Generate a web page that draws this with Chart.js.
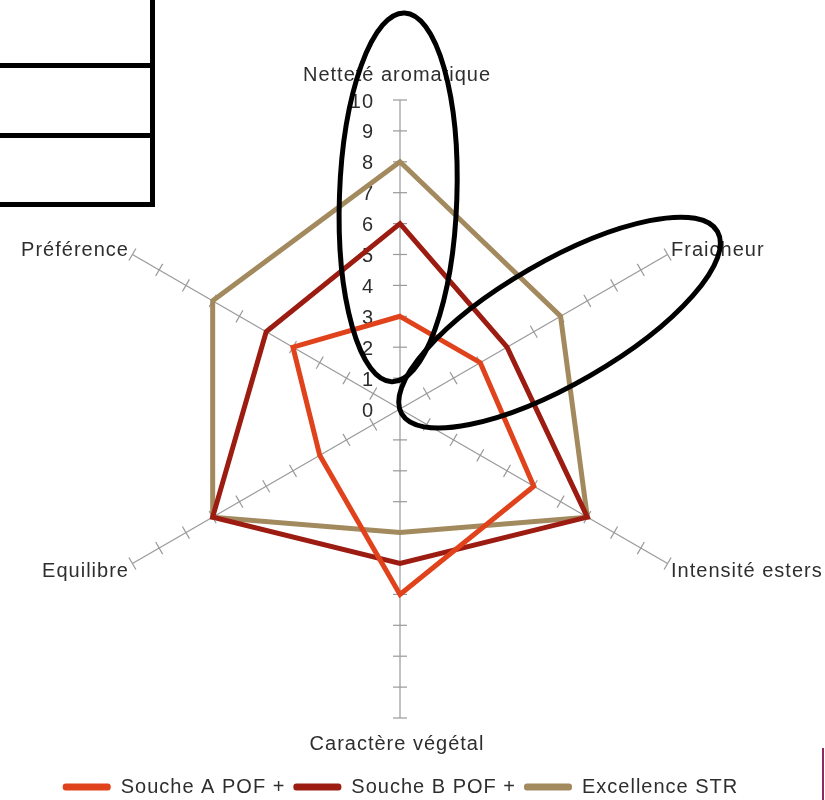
<!DOCTYPE html>
<html>
<head>
<meta charset="utf-8">
<script src="https://cdn.jsdelivr.net/npm/chart.js@4"></script>
<style>
  body { margin: 0; background: #fff; }
  #wrap { position: relative; width: 825px; height: 800px; overflow: hidden; }
  #radarChart { position: absolute; left: -24px; top: 0; }
  /* the little empty table laid over the top-left corner */
  .cell { position: absolute; left: -10px; width: 160px; border-right: 5px solid #000; border-bottom: 5px solid #000; }
  .mark { position: absolute; left: 822px; top: 748px; width: 2px; height: 52px; background: #8b2a66; }
</style>
</head>
<body>
<div id="wrap">
  <canvas id="radarChart" width="849" height="807"></canvas>
  <div class="cell" style="top:0; height:63px;"></div>
  <div class="cell" style="top:68px; height:65px;"></div>
  <div class="cell" style="top:138px; height:64px;"></div>
  <div class="mark"></div>
</div>
<script>
const criteria = ['Netteté aromatique', 'Fraicheur', 'Intensité esters', 'Caractère végétal', 'Equilibre', 'Préférence'];
const soucheA = [3, 3, 5, 6, 3, 4];
const soucheB = [6, 4, 7, 5, 7, 5];
const excellence = [8, 6, 7, 4, 7, 7];
const tickValues = [0, 1, 2, 3, 4, 5, 6, 7, 8, 9, 10];

const FONT = '"Liberation Sans", Arial, sans-serif';
const TEXT = '#2e2e2e';
const ctx = document.getElementById('radarChart').getContext('2d');

// the original text is a bit stretched, so open the letters up
const letterSpacing = {
    id: 'letterSpacing',
    beforeLayout(chart) { chart.ctx.letterSpacing = '1px'; },
    beforeDraw(chart) { chart.ctx.letterSpacing = '1px'; }
};

// tick marks on every axis, numbers on the top axis, criteria names
const axisDecor = {
    id: 'axisDecor',
    beforeDatasetsDraw(chart) {
        const scale = chart.scales.r;
        const c = chart.ctx;
        c.save();
        c.strokeStyle = '#999';
        c.lineWidth = 1.2;
        for (let i = 0; i < criteria.length; i++) {
            const ang = scale.getIndexAngle(i);
            const nx = Math.cos(ang), ny = Math.sin(ang); // perpendicular to the axis
            tickValues.forEach(v => {
                if (v === 0) return;
                const p = scale.getPointPositionForValue(i, v);
                c.beginPath();
                c.moveTo(p.x - nx * 7, p.y - ny * 7);
                c.lineTo(p.x + nx * 7, p.y + ny * 7);
                c.stroke();
            });
        }

        c.fillStyle = TEXT;
        c.font = '20px ' + FONT;
        c.textBaseline = 'middle';
        c.textAlign = 'right';
        tickValues.forEach(v => {
            const p = scale.getPointPositionForValue(0, v);
            c.fillText(String(v), p.x - 26, p.y + 2);
        });

        criteria.forEach((name, i) => {
            const deg = Math.round(scale.getIndexAngle(i) * 180 / Math.PI) % 360;
            const p = scale.getPointPosition(i, scale.drawingArea + 4);
            let x = p.x, y = p.y;
            if (deg === 0) { c.textAlign = 'center'; x -= 3; y -= 21; }
            else if (deg === 180) { c.textAlign = 'center'; x -= 3; y += 22; }
            else {
                c.textAlign = deg < 180 ? 'left' : 'right';
                y += (deg < 90 || deg > 270) ? -2 : 6;
            }
            c.fillText(name, x, y);
        });
        c.restore();
    }
};

// hand drawn ellipses laid along two of the axes (sizes in axis units)
const circles = [
    { axis: 0, centre: 6.85, half: 5.97, across: 1.9, tilt: 0.035, shift: -0.06 },
    { axis: 1, centre: 5.87, half: 5.9, across: 1.98, tilt: 0, shift: 0.16 }
];
const ellipses = {
    id: 'ellipses',
    afterDatasetsDraw(chart) {
        const scale = chart.scales.r;
        const c = chart.ctx;
        const unit = scale.getDistanceFromCenterForValue(1) - scale.getDistanceFromCenterForValue(0);
        c.save();
        c.strokeStyle = '#000';
        c.lineWidth = 5;
        circles.forEach(e => {
            const p = scale.getPointPositionForValue(e.axis, e.centre);
            const axisAng = scale.getIndexAngle(e.axis) - Math.PI / 2;
            // sideways shift, perpendicular to the axis (clockwise side positive)
            const cx = p.x - Math.sin(axisAng) * e.shift * unit;
            const cy = p.y + Math.cos(axisAng) * e.shift * unit;
            c.beginPath();
            c.ellipse(cx, cy, e.half * unit, e.across * unit, axisAng + e.tilt, 0, Math.PI * 2);
            c.stroke();
        });
        c.restore();
    }
};

const lineDataset = (label, data, color) => ({
    label: label,
    data: data,
    borderColor: color,
    backgroundColor: color,
    borderWidth: 5,
    fill: false,
    pointRadius: 0,
    pointHoverRadius: 0,
    tension: 0
});

new Chart(ctx, {
    type: 'radar',
    data: {
        labels: criteria,
        datasets: [
            lineDataset('Souche A POF +', soucheA, '#e0421c'),
            lineDataset('Souche B POF +', soucheB, '#9c1c12'),
            lineDataset('Excellence STR', excellence, '#a38a5e')
        ]
    },
    options: {
        responsive: false,
        animation: false,
        layout: { padding: { top: 100, left: 0, right: 0, bottom: 0 } },
        scales: {
            r: {
                min: 0,
                max: 10,
                ticks: { display: false, stepSize: 1 },
                grid: { display: false },
                angleLines: { display: true, color: '#999', lineWidth: 1.2 },
                pointLabels: { display: false }
            }
        },
        plugins: {
            legend: {
                position: 'bottom',
                // empty title only used as a spacer above the entries
                title: { display: true, text: '', font: { size: 10 }, padding: { top: 0, bottom: 38 } },
                labels: {
                    boxWidth: 48,
                    boxHeight: 7,
                    useBorderRadius: true,
                    borderRadius: 3,
                    padding: 8,
                    color: TEXT,
                    font: { family: FONT, size: 20 },
                    generateLabels(chart) {
                        const items = Chart.defaults.plugins.legend.labels.generateLabels(chart);
                        items.forEach(it => { it.lineWidth = 0; });
                        return items;
                    }
                }
            },
            tooltip: { enabled: false }
        }
    },
    plugins: [letterSpacing, axisDecor, ellipses]
});
</script>
</body>
</html>
